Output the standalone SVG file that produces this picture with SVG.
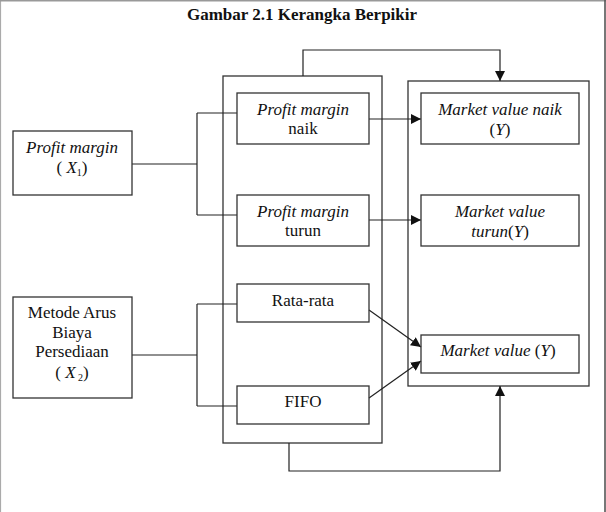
<svg xmlns="http://www.w3.org/2000/svg" width="606" height="512" viewBox="0 0 606 512">
<defs>
<style>
.box{fill:none;stroke:#333;stroke-width:1.3}
.ln{fill:none;stroke:#222;stroke-width:1.2}
text{font-family:"Liberation Serif","Times New Roman",serif;font-size:17px;fill:#111;text-anchor:middle}
.it{font-style:italic}
.title{font-weight:bold;font-size:17px}
.sub{font-size:10px}
</style>
<marker id="ah" viewBox="0 0 10 10" refX="10" refY="5" markerWidth="10" markerHeight="10" markerUnits="userSpaceOnUse" orient="auto">
<path d="M0,0 L10,5 L0,10 z" fill="#111"/>
</marker>
</defs>
<rect width="606" height="512" fill="#fff"/>
<g id="page-border">
<line x1="0.5" y1="0" x2="0.5" y2="512" stroke="#aaa" stroke-width="1.2"/>
<line x1="0" y1="0.7" x2="606" y2="0.7" stroke="#999" stroke-width="1.4"/>
<line x1="605" y1="0" x2="605" y2="512" stroke="#555" stroke-width="1.6"/>
</g>
<text class="title" x="302" y="20">Gambar 2.1 Kerangka Berpikir</text>

<g id="containers">
<rect id="mid-container" class="box" x="223" y="76" width="159" height="367"/>
<rect id="right-container" class="box" x="408" y="81" width="181" height="305"/>
</g>

<g id="connectors">
<path class="ln" d="M132,164 H197 M197,113 V215 M197,113 H237 M197,215 H237"/>
<path class="ln" d="M132,355 H197 M197,304 V406 M197,304 H237 M197,406 H237"/>
<path class="ln" d="M303,76 V50 H500 V81" marker-end="url(#ah)"/>
<path class="ln" d="M289,443 V471 H500 V386" marker-end="url(#ah)"/>
<line class="ln" x1="369" y1="119" x2="421" y2="119" marker-end="url(#ah)"/>
<line class="ln" x1="369" y1="220" x2="421" y2="220" marker-end="url(#ah)"/>
<line class="ln" x1="369" y1="310" x2="421" y2="347" marker-end="url(#ah)"/>
<line class="ln" x1="369" y1="398" x2="421" y2="361" marker-end="url(#ah)"/>
</g>

<g id="x1">
<rect class="box" x="13" y="131" width="119" height="64"/>
<text class="it" x="72" y="153">Profit margin</text>
<text x="72" y="173">( <tspan class="it">X</tspan><tspan class="sub" dy="3">1</tspan><tspan dy="-3">)</tspan></text>
</g>

<g id="x2">
<rect class="box" x="13" y="297" width="119" height="101"/>
<text x="72" y="318">Metode Arus</text>
<text x="72" y="338">Biaya</text>
<text x="72" y="357">Persediaan</text>
<text x="72" y="378">( <tspan class="it">X</tspan><tspan class="sub" dy="3"> 2</tspan><tspan dy="-3">)</tspan></text>
</g>

<g id="pm-naik">
<rect class="box" x="237" y="93" width="132" height="51"/>
<text class="it" x="303" y="115">Profit margin</text>
<text x="303" y="134">naik</text>
</g>

<g id="pm-turun">
<rect class="box" x="237" y="195" width="132" height="51"/>
<text class="it" x="303" y="217">Profit margin</text>
<text x="303" y="236">turun</text>
</g>

<g id="rata-rata">
<rect class="box" x="237" y="284" width="132" height="38"/>
<text x="303" y="306">Rata-rata</text>
</g>

<g id="fifo">
<rect class="box" x="237" y="386" width="132" height="38"/>
<text x="303" y="407">FIFO</text>
</g>

<g id="mv-naik">
<rect class="box" x="421" y="93" width="158" height="51"/>
<text class="it" x="500" y="115">Market value naik</text>
<text x="500" y="135">(<tspan class="it">Y</tspan>)</text>
</g>

<g id="mv-turun">
<rect class="box" x="421" y="195" width="158" height="51"/>
<text class="it" x="500" y="217">Market value</text>
<text x="500" y="237"><tspan class="it">turun</tspan>(<tspan class="it">Y</tspan>)</text>
</g>

<g id="mv">
<rect class="box" x="421" y="335" width="158" height="38"/>
<text x="498" y="356"><tspan class="it">Market value</tspan>  (<tspan class="it">Y</tspan>)</text>
</g>
</svg>
